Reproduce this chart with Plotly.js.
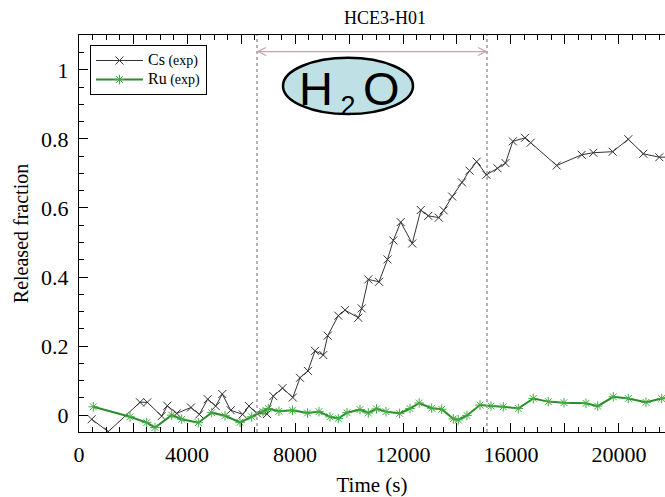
<!DOCTYPE html>
<html>
<head>
<meta charset="utf-8">
<script src="https://cdn.plot.ly/plotly-3.0.1.min.js"></script>
<style>html,body{margin:0;padding:0;background:#fff;overflow:hidden}</style>
</head>
<body>
<div id="chart" style="width:665px;height:497px"></div>
<script>
// Cs (exp) release fraction
const csTime = [470,1085,2259,2530,3063,3270,3619,4148,4456,4767,5063,5307,5619,6063,6296,6593,6963,7196,7537,7919,8185,8481,8741,9048,9211,9604,9852,10344,10470,10715,11111,11426,11641,11915,12344,12659,12937,13326,13507,13822,14185,14463,14730,15089,15500,15796,16067,16519,16730,17693,18619,19048,19767,20344,20900,21493,22260];
const csFrac = [-0.012,-0.048,0.037,0.037,-0.003,0.027,0.005,0.022,0.002,0.046,0.026,0.061,0.014,0.002,0.026,0.005,0.003,0.055,0.078,0.051,0.108,0.128,0.186,0.174,0.230,0.288,0.304,0.282,0.309,0.393,0.386,0.451,0.506,0.559,0.497,0.594,0.577,0.572,0.593,0.633,0.674,0.708,0.734,0.696,0.715,0.730,0.793,0.803,0.789,0.723,0.754,0.760,0.763,0.799,0.757,0.747,0.748];
// Ru (exp) release fraction
const ruTime = [530,1889,2507,2815,3433,3804,4419,4915,5407,5963,6396,6815,7011,7407,7907,8463,8889,9296,9604,9926,10407,10715,11019,11370,11874,12259,12600,13063,13433,13863,14048,14370,14852,15259,15715,16270,16826,17381,17963,18778,19211,19789,20344,21000,21581,22260];
const ruFrac = [0.024,-0.005,-0.022,-0.036,0.000,-0.012,-0.022,0.007,-0.002,-0.021,-0.005,0.010,0.019,0.011,0.014,0.006,0.010,-0.005,-0.010,0.007,0.016,0.006,0.018,0.010,0.005,0.019,0.035,0.020,0.017,-0.011,-0.014,-0.001,0.029,0.026,0.024,0.019,0.048,0.039,0.036,0.034,0.026,0.053,0.048,0.037,0.048,0.052];
// Axis ticks
const xLabelVals = [0,4000,8000,12000,16000,20000];
const xLabelText = ['0','4000','8000','12000','16000','20000'];
const xMajorStep = 2000;
const yTickVals = [0,0.2,0.4,0.6,0.8,1];
const yTickText = ['0','0.2','0.4','0.6','0.8','1'];
// Water-injection phase boundaries (s)
const phaseStart = 6593;
const phaseEnd = 15111;
const arrowLevel = 1.053;

const serif = 'Liberation Serif, Times New Roman, serif';
const xRange = [0, 21704];
const phaseColor = '#a8949a';
const arrowColor = '#c4a2aa';

const traces = [
  {
    x: csTime, y: csFrac, type: 'scatter', mode: 'lines+markers',
    name: '<span style="font-size:16px">Cs</span><span style="font-size:14px">&nbsp;(exp)</span>',
    line: {color: '#333333', width: 1},
    marker: {symbol: 'x-thin-open', size: 8, color: '#333333', line: {width: 1, color: '#333333'}}
  },
  {
    x: ruTime, y: ruFrac, type: 'scatter', mode: 'lines+markers',
    name: '<span style="font-size:16px">Ru</span><span style="font-size:14px">&nbsp;(exp)</span>',
    line: {color: '#2a8c2a', width: 2},
    marker: {symbol: 'asterisk-open', size: 8, color: '#3fae3f', line: {width: 1, color: '#3fae3f'}}
  },
  {
    x: [], y: [], type: 'scatter', mode: 'markers', xaxis: 'x2', showlegend: false, hoverinfo: 'skip'
  }
];

const layout = {
  width: 665, height: 497,
  margin: {l: 79, r: 0, t: 35, b: 65},
  paper_bgcolor: '#fff', plot_bgcolor: '#fff',
  font: {family: serif, color: '#000'},
  title: {text: 'HCE3-H01', font: {family: serif, size: 18, color: '#000'}, xref: 'container', x: 385/665, xanchor: 'center', yref: 'container', y: 1 - 18/497, yanchor: 'middle'},
  showlegend: true,
  legend: {
    x: (90-79)/586, y: (432-45)/397, xanchor: 'left', yanchor: 'top',
    bgcolor: '#fff', bordercolor: '#000', borderwidth: 1,
    font: {family: serif, size: 11, color: '#000'},
    tracegroupgap: 0, itemwidth: 47
  },
  xaxis: {
    range: xRange, autorange: false,
    tickmode: 'array', tickvals: xLabelVals, ticktext: xLabelText,
    ticks: 'inside', ticklen: 9, tickwidth: 1, tickcolor: '#000',
    minor: {dtick: 500, tick0: 0, ticks: 'inside', ticklen: 5, tickwidth: 1, tickcolor: '#000'},
    showline: true, linecolor: '#000', linewidth: 1, mirror: 'allticks',
    showgrid: false, zeroline: false,
    tickfont: {family: serif, size: 22, color: '#000'},
    ticklabelstandoff: 3,
    title: {text: 'Time (s)', font: {family: serif, size: 21, color: '#000'}, standoff: 10},
    automargin: false
  },
  xaxis2: {
    overlaying: 'x', anchor: 'y', side: 'bottom', matches: 'x',
    range: xRange, autorange: false,
    tickmode: 'linear', tick0: 0, dtick: xMajorStep,
    ticks: 'inside', ticklen: 9, tickwidth: 1, tickcolor: '#000',
    showticklabels: false, showline: false, mirror: 'ticks',
    showgrid: false, zeroline: false
  },
  yaxis: {
    range: [-0.049, 1.101], autorange: false,
    tickmode: 'array', tickvals: yTickVals, ticktext: yTickText,
    ticks: 'inside', ticklen: 9, tickwidth: 1, tickcolor: '#000',
    minor: {dtick: 0.05, tick0: 0, ticks: 'inside', ticklen: 5, tickwidth: 1, tickcolor: '#000'},
    showline: true, linecolor: '#000', linewidth: 1, mirror: false,
    showgrid: false, zeroline: false,
    tickfont: {family: serif, size: 22, color: '#000'},
    ticklabelstandoff: 5,
    title: {text: 'Released fraction', font: {family: serif, size: 20, color: '#000'}, standoff: 7},
    automargin: false
  },
  shapes: [
    {type: 'line', xref: 'x', yref: 'paper', x0: phaseStart, x1: phaseStart, y0: 0, y1: 1,
     line: {color: phaseColor, width: 1.5, dash: 'dot'}},
    {type: 'line', xref: 'x', yref: 'paper', x0: phaseEnd, x1: phaseEnd, y0: 0, y1: 1,
     line: {color: phaseColor, width: 1.5, dash: 'dot'}},
    // double-headed arrow spanning the water phase
    {type: 'line', xref: 'x', yref: 'y', x0: phaseStart, x1: phaseEnd, y0: arrowLevel, y1: arrowLevel,
     line: {color: arrowColor, width: 1.2}},
    {type: 'path', xref: 'x', yref: 'y', xsizemode: 'pixel', ysizemode: 'pixel', xanchor: phaseStart, yanchor: arrowLevel,
     path: 'M9,-4 L1,0 L9,4', line: {color: arrowColor, width: 1.2}},
    {type: 'path', xref: 'x', yref: 'y', xsizemode: 'pixel', ysizemode: 'pixel', xanchor: phaseEnd, yanchor: arrowLevel,
     path: 'M-9,-4 L-1,0 L-9,4', line: {color: arrowColor, width: 1.2}},
    {type: 'circle', xref: 'x', yref: 'y', x0: 7556, x1: 12370, y0: 0.872, y1: 1.035,
     fillcolor: '#bfe1e5', line: {color: '#000', width: 2.5}, layer: 'above'}
  ],
  annotations: [
    {xref: 'x', yref: 'y', x: 10000, y: 0.938, text: 'H<sub><span style="font-size:27px"> 2 </span></sub>O', showarrow: false,
     font: {family: 'Liberation Sans, Arial, sans-serif', size: 47, color: '#000'}, xanchor: 'center', yanchor: 'middle'}
  ]
};

Plotly.newPlot('chart', traces, layout, {displayModeBar: false, staticPlot: true});
</script>
</body>
</html>
